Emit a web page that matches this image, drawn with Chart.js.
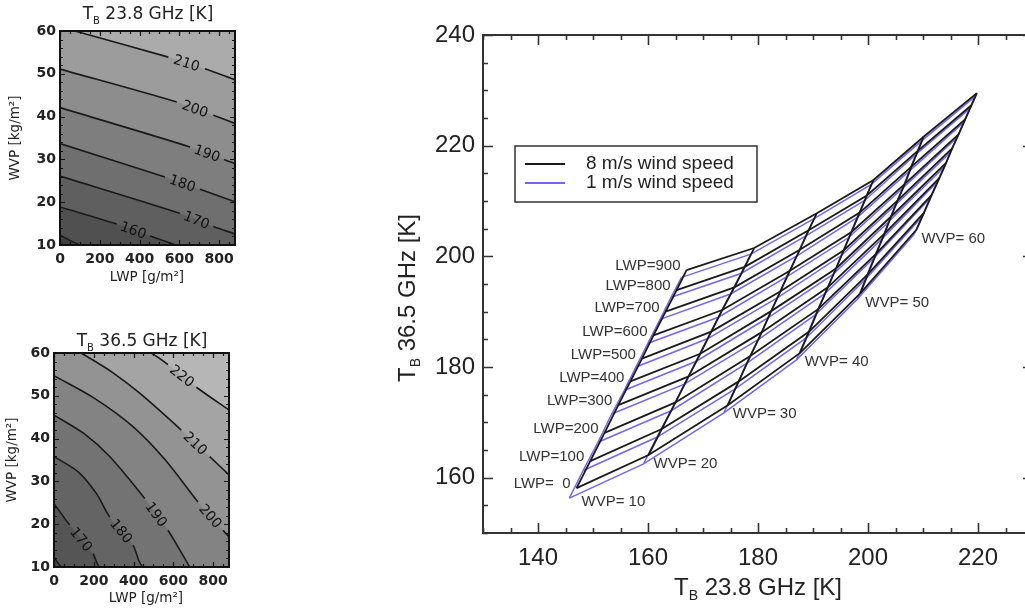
<!DOCTYPE html>
<html>
<head>
<meta charset="utf-8">
<script src="https://cdn.jsdelivr.net/npm/chart.js@4.4.0/dist/chart.umd.min.js"></script>
<style>
  html, body { margin: 0; padding: 0; background: #fff; overflow: hidden; width: 1025px; height: 608px; }
  canvas { position: absolute; }
</style>
</head>
<body>
<canvas id="c23" width="250" height="300" style="left:0;top:0"></canvas>
<canvas id="c36" width="250" height="308" style="left:0;top:300px"></canvas>
<canvas id="main" width="680" height="608" style="left:380px;top:0"></canvas>
<script>
/* ---------- main panel: TB pairs on the LWP x WVP grid (rows = WVP, cols = LWP) ---------- */
const LWP = [0, 100, 200, 300, 400, 500, 600, 700, 800, 900];
const WVP = [10, 20, 30, 40, 50, 60];

// 8 m/s wind speed
const tb23_w8 = [
  [147.0, 149.5, 152.1, 154.6, 156.8, 158.9, 161.0, 163.2, 165.2, 167.0],
  [160.1, 162.5, 165.0, 167.4, 169.5, 171.5, 173.5, 175.7, 177.6, 179.3],
  [174.5, 176.5, 178.6, 180.7, 182.4, 184.1, 185.8, 187.6, 189.2, 190.7],
  [187.6, 189.3, 191.0, 192.7, 194.2, 195.6, 197.0, 198.5, 199.8, 201.0],
  [198.6, 200.0, 201.5, 203.0, 204.2, 205.4, 206.7, 207.9, 209.1, 210.1],
  [208.8, 210.2, 211.6, 213.0, 214.2, 215.3, 216.5, 217.7, 218.8, 219.8]
];
const tb36_w8 = [
  [158.1, 163.0, 168.1, 173.1, 177.4, 181.5, 185.7, 190.0, 193.9, 197.5],
  [164.1, 168.8, 173.6, 178.3, 182.4, 186.4, 190.3, 194.4, 198.1, 201.5],
  [173.1, 177.4, 182.0, 186.3, 190.1, 193.7, 197.4, 201.2, 204.7, 207.8],
  [182.5, 186.4, 190.5, 194.4, 197.8, 201.1, 204.4, 207.9, 211.0, 213.8],
  [193.3, 196.8, 200.5, 204.1, 207.2, 210.1, 213.1, 216.2, 219.1, 221.6],
  [204.8, 207.9, 211.1, 214.2, 216.9, 219.5, 222.1, 224.8, 227.3, 229.5]
];
// 1 m/s wind speed
const tb23_w1 = [
  [145.7, 148.2, 150.9, 153.4, 155.7, 157.8, 160.0, 162.2, 164.2, 166.1],
  [159.2, 161.6, 164.2, 166.6, 168.7, 170.8, 172.8, 175.0, 176.9, 178.7],
  [173.8, 175.8, 178.0, 180.1, 181.8, 183.5, 185.2, 187.1, 188.7, 190.2],
  [187.0, 188.7, 190.4, 192.2, 193.7, 195.1, 196.5, 198.0, 199.4, 200.6],
  [198.1, 199.5, 201.0, 202.6, 203.8, 205.0, 206.3, 207.5, 208.7, 209.8],
  [208.4, 209.8, 211.2, 212.6, 213.9, 215.0, 216.2, 217.4, 218.5, 219.5]
];
const tb36_w1 = [
  [156.3, 161.3, 166.4, 171.5, 175.8, 180.0, 184.3, 188.6, 192.6, 196.2],
  [162.5, 167.3, 172.1, 176.9, 181.0, 185.1, 189.0, 193.2, 196.9, 200.4],
  [171.7, 176.0, 180.7, 185.0, 188.9, 192.5, 196.3, 200.1, 203.7, 206.8],
  [181.3, 185.2, 189.4, 193.3, 196.8, 200.1, 203.4, 207.0, 210.1, 213.0],
  [192.3, 195.8, 199.6, 203.2, 206.3, 209.3, 212.3, 215.4, 218.4, 220.9],
  [204.0, 207.1, 210.4, 213.5, 216.2, 218.8, 221.5, 224.2, 226.7, 228.9]
];
const mainXTicks = [140, 160, 180, 200, 220];
const mainYTicks = [160, 180, 200, 220, 240];
const legendLabels = ['8 m/s wind speed', '1 m/s wind speed'];

/* ---------- small panels: contour lines in (LWP, WVP), extended past the frame for the fills ---------- */
const lwpTicks = [0, 200, 400, 600, 800];
const wvpTicks = [10, 20, 30, 40, 50, 60];

const c23Levels = [150, 160, 170, 180, 190, 200, 210];
const c23Lwp = [
  [0, 100, 400, 880],
  [0, 285, 453, 582, 880],
  [0, 603, 771, 880],
  [0, 528, 704, 880],
  [0, 654, 825, 880],
  [0, 587, 771, 880],
  [0, 75, 545, 729, 880]
];
const c23Wvp = [
  [12.3, 10.0, 5.0, -5.0],
  [18.9, 14.9, 12.1, 10.0, 5.0],
  [26.1, 17.4, 14.3, 12.6],
  [33.7, 25.9, 23.0, 20.1],
  [42.1, 32.9, 30.0, 29.0],
  [51.1, 43.4, 40.3, 38.4],
  [61.0, 60.0, 53.9, 51.2, 48.6]
];
const c23LabelSeg = [-1, 1, 1, 1, 1, 1, 2];
const c23Fill = ['#404040', '#505050', '#5f5f5f', '#6f6f6f', '#7e7e7e', '#8d8d8d', '#9c9c9c'];
const c23TopFill = '#ababab';

const c36Levels = [160, 170, 180, 190, 200, 210, 220];
const c36Lwp = [
  [0, 37, 880],
  [0, 79, 196, 230, 880],
  [0, 120, 213, 280, 397, 447, 880],
  [0, 150, 280, 456, 573, 682, 880],
  [0, 200, 397, 560, 724, 850, 880],
  [0, 137, 290, 431, 640, 783, 880],
  [0, 489, 573, 716, 880]
];
const c36Wvp = [
  [12.3, 10.0, -20],
  [24.8, 19.8, 13.1, 10.0, -10],
  [35.8, 32.3, 27.2, 21.7, 15.1, 10.0, -3],
  [45.5, 41.2, 35.8, 26.0, 18.6, 10.0, -6],
  [54.7, 49.5, 42.8, 35.0, 25.2, 18.6, 17.0],
  [64.0, 60.0, 55.6, 50.6, 42.0, 35.8, 31.5],
  [72.0, 60.0, 57.3, 52.0, 46.7]
];
const c36LabelSeg = [-1, 1, 3, 3, 4, 4, 2];
const c36Fill = ['#474747', '#555555', '#646464', '#737373', '#838383', '#939393', '#a4a4a4'];
const c36TopFill = '#b6b6b6';

const BLACK = '#1a1a1a';
const BLUE = '#7466ee';

/* ---------- helpers ---------- */
function isMultiple(v, step) {
  return Math.abs(v / step - Math.round(v / step)) < 1e-6;
}

// IDL style frame: box on four sides, ticks pointing inwards
function frameTicks(o) {
  return {
    id: 'frameTicks',
    afterDraw(chart) {
      const { ctx, chartArea: a, scales: { x, y } } = chart;
      ctx.save();
      ctx.strokeStyle = o.color;
      ctx.lineWidth = o.tickWidth;
      ctx.beginPath();
      for (let v = x.min; v <= x.max + 1e-6; v += o.xMinor) {
        const px = Math.round(x.getPixelForValue(v)) + 0.5;
        const len = isMultiple(v, o.xMajor) ? o.major : o.minor;
        ctx.moveTo(px, a.bottom); ctx.lineTo(px, a.bottom - len);
        ctx.moveTo(px, a.top); ctx.lineTo(px, a.top + len);
      }
      for (let v = y.min; v <= y.max + 1e-6; v += o.yMinor) {
        const py = Math.round(y.getPixelForValue(v)) + 0.5;
        const len = isMultiple(v, o.yMajor) ? o.major : o.minor;
        ctx.moveTo(a.left, py); ctx.lineTo(a.left + len, py);
        ctx.moveTo(a.right, py); ctx.lineTo(a.right - len, py);
      }
      ctx.stroke();
      ctx.lineWidth = o.frameWidth;
      ctx.strokeRect(a.left, a.top, a.right - a.left, a.bottom - a.top);
      ctx.restore();
    }
  };
}

// "T" with subscript "B" followed by the rest of the title
function drawTB(ctx, cx, cy, rest, size, family, rot) {
  ctx.save();
  ctx.translate(cx, cy);
  if (rot) ctx.rotate(rot);
  const big = size + 'px "' + family + '"';
  const small = Math.round(size * 0.6) + 'px "' + family + '"';
  ctx.font = big;
  const wT = ctx.measureText('T').width;
  const wR = ctx.measureText(rest).width;
  ctx.font = small;
  const wB = ctx.measureText('B').width;
  let x = -(wT + wB + wR) / 2;
  ctx.fillStyle = '#222';
  ctx.textAlign = 'left';
  ctx.textBaseline = 'middle';
  ctx.font = big; ctx.fillText('T', x, 0); x += wT;
  ctx.font = small; ctx.fillText('B', x, size * 0.36); x += wB;
  ctx.font = big; ctx.fillText(rest, x, 0);
  ctx.restore();
}

function drawText(ctx, txt, x, y, font, rot) {
  ctx.save();
  ctx.translate(x, y);
  if (rot) ctx.rotate(rot);
  ctx.font = font;
  ctx.fillStyle = '#222';
  ctx.textAlign = 'center';
  ctx.textBaseline = 'middle';
  ctx.fillText(txt, 0, 0);
  ctx.restore();
}

/* ---------- small contour panels ---------- */
function contourChart(id, levels, lwp, wvp, labelSeg, fills, topFill, o) {
  // contour lines first (drawn last, on top), then the filled bands under them
  const lines = levels.map((lev, k) => {
    const g = labelSeg[k];
    return {
      level: lev,
      labelSeg: g,
      data: lwp[k].map((v, i) => ({ x: v, y: wvp[k][i] })),
      showLine: true,
      borderColor: BLACK,
      borderWidth: 1.6,
      fill: false,
      tension: 0.3,
      pointRadius: 0,
      segment: { borderColor: c => (c.p0DataIndex === g ? 'rgba(0,0,0,0)' : BLACK) }
    };
  });
  const bands = levels.map((lev, k) => ({
    labelSeg: -1,
    data: lwp[k].map((v, i) => ({ x: v, y: wvp[k][i] })),
    showLine: true,
    borderWidth: 0,
    borderColor: 'rgba(0,0,0,0)',
    backgroundColor: fills[k],
    fill: 'start',
    tension: 0.3,
    pointRadius: 0
  }));

  const decor = {
    id: 'decor',
    beforeDatasetsDraw(chart) {
      const { ctx, chartArea: a } = chart;
      ctx.save();
      ctx.fillStyle = topFill;
      ctx.fillRect(a.left, a.top, a.right - a.left, a.bottom - a.top);
      ctx.restore();
    },
    afterDatasetsDraw(chart) {
      const ctx = chart.ctx;
      chart.data.datasets.forEach((ds, i) => {
        if (ds.labelSeg < 0) return;
        const pts = chart.getDatasetMeta(i).data;
        const p0 = pts[ds.labelSeg], p1 = pts[ds.labelSeg + 1];
        const ang = Math.atan2(p1.y - p0.y, p1.x - p0.x);
        ctx.save();
        ctx.translate((p0.x + p1.x) / 2, (p0.y + p1.y) / 2);
        ctx.rotate(ang);
        ctx.font = '14px "DejaVu Sans"';
        ctx.fillStyle = '#111';
        ctx.textAlign = 'center';
        ctx.textBaseline = 'middle';
        ctx.fillText(String(ds.level), 0, 1);
        ctx.restore();
      });
    },
    afterDraw(chart) {
      const ctx = chart.ctx;
      drawTB(ctx, o.title[0], o.title[1], o.titleText, 17, 'DejaVu Sans');
      drawText(ctx, 'LWP [g/m\u00b2]', o.xTitle[0], o.xTitle[1], '13.5px "DejaVu Sans"');
      drawText(ctx, 'WVP [kg/m\u00b2]', o.yTitle[0], o.yTitle[1], '13.5px "DejaVu Sans"', -Math.PI / 2);
    }
  };

  const tickFont = { family: 'DejaVu Sans', size: 14, weight: 'bold' };
  return new Chart(document.getElementById(id), {
    type: 'scatter',
    data: { datasets: [...lines, ...bands] },
    options: {
      responsive: false,
      animation: false,
      layout: { padding: { left: 0, right: o.padRight, top: o.padTop, bottom: 0 } },
      plugins: { legend: { display: false }, tooltip: { enabled: false } },
      scales: {
        x: {
          type: 'linear', min: 0, max: 880,
          afterBuildTicks: s => { s.ticks = lwpTicks.map(v => ({ value: v })); },
          afterFit: s => { s.height = o.xHeight; },
          grid: { display: false, drawTicks: false },
          border: { display: false },
          ticks: { padding: 6, font: tickFont, color: '#222' }
        },
        y: {
          type: 'linear', min: 10, max: 60,
          afterBuildTicks: s => { s.ticks = wvpTicks.map(v => ({ value: v })); },
          afterFit: s => { s.width = o.yWidth; },
          grid: { display: false, drawTicks: false },
          border: { display: false },
          ticks: { padding: 4, font: tickFont, color: '#222' }
        }
      }
    },
    plugins: [decor, frameTicks({ color: '#111', tickWidth: 1.2, frameWidth: 2, major: 5, minor: 3,
                                  xMajor: 200, xMinor: 50, yMajor: 10, yMinor: 2 })]
  });
}

contourChart('c23', c23Levels, c23Lwp, c23Wvp, c23LabelSeg, c23Fill, c23TopFill, {
  padRight: 15, padTop: 31, xHeight: 55, yWidth: 60,
  title: [148, 15], titleText: ' 23.8 GHz [K]', xTitle: [147, 277], yTitle: [15, 138]
});
contourChart('c36', c36Levels, c36Lwp, c36Wvp, c36LabelSeg, c36Fill, c36TopFill, {
  padRight: 21, padTop: 53, xHeight: 41, yWidth: 54,
  title: [142, 42], titleText: ' 36.5 GHz [K]', xTitle: [146, 298], yTitle: [12, 160]
});

/* ---------- main panel ---------- */
function meshSets(t23, t36, color, width) {
  const sets = [];
  LWP.forEach((l, j) => sets.push({
    data: WVP.map((w, i) => ({ x: t23[i][j], y: t36[i][j] })),
    showLine: true, borderColor: color, borderWidth: width, pointRadius: 0, tension: 0
  }));
  WVP.forEach((w, i) => sets.push({
    data: LWP.map((l, j) => ({ x: t23[i][j], y: t36[i][j] })),
    showLine: true, borderColor: color, borderWidth: width, pointRadius: 0, tension: 0
  }));
  return sets;
}

const mainDecor = {
  id: 'mainDecor',
  afterDraw(chart) {
    const { ctx, scales: { x, y } } = chart;

    // grid labels
    ctx.save();
    ctx.font = '15px "Liberation Sans"';
    ctx.fillStyle = '#333';
    ctx.textBaseline = 'middle';
    ctx.textAlign = 'right';
    LWP.forEach((l, j) => {
      const px = x.getPixelForValue(tb23_w8[0][j]);
      const py = y.getPixelForValue(tb36_w8[0][j]);
      ctx.fillText('LWP=' + String(l).padStart(3, ' '), px - 6, py - 4);
    });
    ctx.textAlign = 'left';
    WVP.forEach((w, i) => {
      const px = x.getPixelForValue(tb23_w8[i][0]);
      const py = y.getPixelForValue(tb36_w8[i][0]);
      ctx.fillText('WVP=' + String(w).padStart(3, ' '), px + 5, py + (i === 0 ? 14 : 9));
    });
    ctx.restore();

    // legend
    ctx.save();
    ctx.strokeStyle = '#333';
    ctx.lineWidth = 1.5;
    ctx.strokeRect(135, 146, 242, 56);
    [BLACK, BLUE].forEach((c, k) => {
      const ly = 164 + k * 19;
      ctx.strokeStyle = c;
      ctx.lineWidth = 2;
      ctx.beginPath(); ctx.moveTo(145, ly); ctx.lineTo(185, ly); ctx.stroke();
      ctx.font = '19px "Liberation Sans"';
      ctx.fillStyle = '#222';
      ctx.textAlign = 'left';
      ctx.textBaseline = 'middle';
      ctx.fillText(legendLabels[k], 206, ly);
    });
    ctx.restore();

    // axis titles
    drawTB(ctx, 378, 588, ' 23.8 GHz [K]', 24, 'Liberation Sans');
    drawTB(ctx, 28, 298, ' 36.5 GHz [K]', 24, 'Liberation Sans', -Math.PI / 2);
  }
};

const mainFont = { family: 'Liberation Sans', size: 24 };
new Chart(document.getElementById('main'), {
  type: 'scatter',
  data: { datasets: [...meshSets(tb23_w8, tb36_w8, BLACK, 1.8), ...meshSets(tb23_w1, tb36_w1, BLUE, 1.5)] },
  options: {
    responsive: false,
    animation: false,
    layout: { padding: { left: 0, right: 27, top: 35, bottom: 0 } },
    plugins: { legend: { display: false }, tooltip: { enabled: false } },
    scales: {
      x: {
        type: 'linear', min: 130, max: 230,
        afterBuildTicks: s => { s.ticks = mainXTicks.map(v => ({ value: v })); },
        afterFit: s => { s.height = 75; },
        grid: { display: false, drawTicks: false },
        border: { display: false },
        ticks: { padding: 11, font: mainFont, color: '#222' }
      },
      y: {
        type: 'linear', min: 150, max: 240,
        afterBuildTicks: s => { s.ticks = mainYTicks.map(v => ({ value: v })); },
        afterFit: s => { s.width = 103; },
        grid: { display: false, drawTicks: false },
        border: { display: false },
        ticks: { padding: 8, font: mainFont, color: '#222' }
      }
    }
  },
  plugins: [mainDecor, frameTicks({ color: '#333', tickWidth: 1.6, frameWidth: 2, major: 10, minor: 5,
                                    xMajor: 20, xMinor: 5, yMajor: 20, yMinor: 5 })]
});
</script>
</body>
</html>
